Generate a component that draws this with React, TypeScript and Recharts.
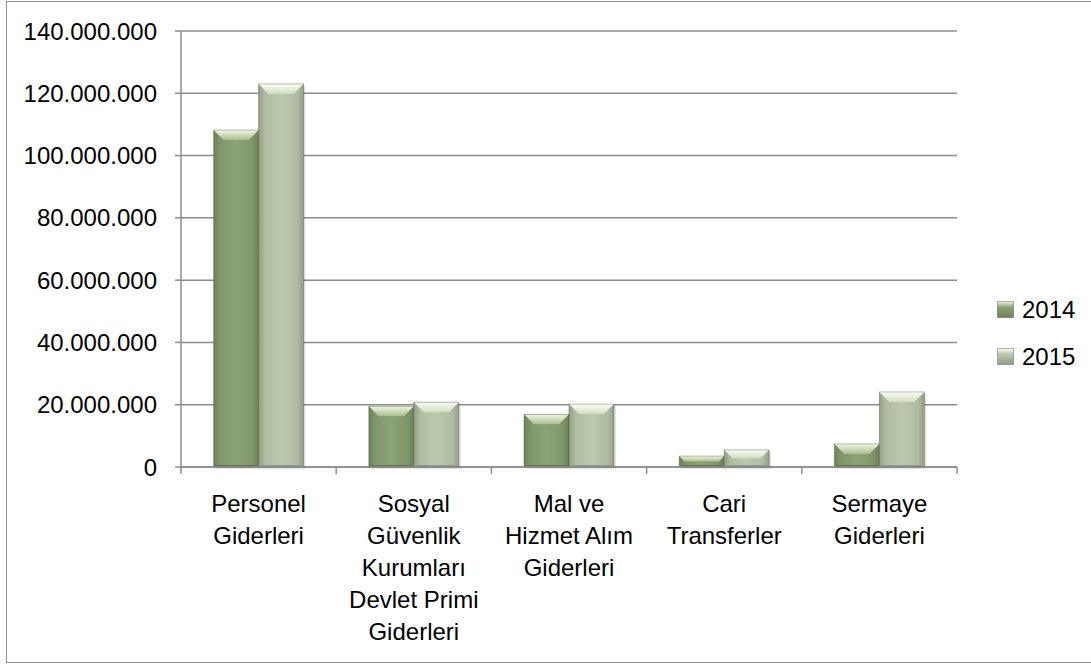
import React from 'react';
import { BarChart, Bar, XAxis, YAxis, CartesianGrid, Legend } from 'recharts';

const categories = [
  'Personel Giderleri',
  'Sosyal Güvenlik Kurumları Devlet Primi Giderleri',
  'Mal ve Hizmet Alım Giderleri',
  'Cari Transferler',
  'Sermaye Giderleri',
];
const categoryLabelLines = [
  ['Personel', 'Giderleri'],
  ['Sosyal', 'Güvenlik', 'Kurumları', 'Devlet Primi', 'Giderleri'],
  ['Mal ve', 'Hizmet Alım', 'Giderleri'],
  ['Cari', 'Transferler'],
  ['Sermaye', 'Giderleri'],
];
const seriesNames = ['2014', '2015'];
const values2014 = [108200000, 19500000, 16900000, 3500000, 7400000];
const values2015 = [123000000, 20800000, 20200000, 5500000, 24100000];
const yTicks = [0, 20000000, 40000000, 60000000, 80000000, 100000000, 120000000, 140000000];

const data = categories.map((c, i) => ({
  name: c,
  [seriesNames[0]]: values2014[i],
  [seriesNames[1]]: values2015[i],
}));

const FONT = "'Liberation Sans', Arial, sans-serif";
const GRID = '#8c8c8c';

const palettes = [
  { key: 'a', edge: '#6b8156', body: '#7f966a', mid: '#8ba375', topLight: '#f0f6e2', topDark: '#a9bd92', bottom: '#62774f' },
  { key: 'b', edge: '#939f86', body: '#b0bca1', mid: '#bdc9ae', topLight: '#fcfdf4', topDark: '#d2dbc3', bottom: '#8f9a82' },
];

const fmt = (v: number) => String(v).replace(/\B(?=(\d{3})+(?!\d))/g, '.');

const makeShape = (pal: any) => (props: any) => {
  const { x, y, width: w, height: h, index } = props;
  if (!h || h <= 0) return null;
  const id = `bar-${pal.key}-${index}`;
  const b = Math.min(10, h / 2, w / 4);
  return (
    <g>
      <defs>
        <linearGradient id={id + 'h'} x1="0" x2="1" y1="0" y2="0">
          <stop offset="0" stopColor={pal.edge} />
          <stop offset="0.14" stopColor={pal.body} />
          <stop offset="0.5" stopColor={pal.mid} />
          <stop offset="0.86" stopColor={pal.body} />
          <stop offset="1" stopColor={pal.edge} />
        </linearGradient>
        <linearGradient id={id + 't'} x1="0" x2="0" y1="0" y2="1">
          <stop offset="0" stopColor={pal.topLight} />
          <stop offset="1" stopColor={pal.topDark} />
        </linearGradient>
      </defs>
      <rect x={x + 2} y={y + 2} width={w} height={h} fill="rgba(0,0,0,0.10)" />
      <rect x={x} y={y} width={w} height={h} fill={`url(#${id}h)`} />
      <polygon
        points={`${x},${y} ${x + w},${y} ${x + w - b},${y + b} ${x + b},${y + b}`}
        fill={`url(#${id}t)`}
      />
      <polygon
        points={`${x},${y + h} ${x + w},${y + h} ${x + w - 2},${y + h - 2} ${x + 2},${y + h - 2}`}
        fill={pal.bottom}
      />
      <rect x={x} y={y} width={w} height={h} fill="none" stroke="rgba(60,70,50,0.35)" strokeWidth={1} />
    </g>
  );
};

const XTick = (props: any) => {
  const { x, y, index, width } = props;
  const step = width / categories.length;
  const lines = categoryLabelLines[index] || [];
  const top = y - 7;
  return (
    <g>
      <line x1={x - step / 2} x2={x - step / 2} y1={top} y2={top + 7} stroke={GRID} strokeWidth={1.5} />
      {index === categories.length - 1 && (
        <line x1={x + step / 2} x2={x + step / 2} y1={top} y2={top + 7} stroke={GRID} strokeWidth={1.5} />
      )}
      <text textAnchor="middle" fontFamily={FONT} fontSize={24} fill="#000">
        {lines.map((l, i) => (
          <tspan key={i} x={x} y={y + 38 + i * 32}>
            {l}
          </tspan>
        ))}
      </text>
    </g>
  );
};

const LegendContent = () => (
  <div style={{ fontFamily: FONT, fontSize: 24, color: '#000' }}>
    {seriesNames.map((n, i) => {
      const p = palettes[i];
      return (
        <div key={n} style={{ display: 'flex', alignItems: 'center', height: 47 }}>
          <svg width={18} height={18} style={{ display: 'block' }}>
            <defs>
              <linearGradient id={`lg${i}`} x1="0" x2="0" y1="0" y2="1">
                <stop offset="0" stopColor={p.topLight} />
                <stop offset="0.35" stopColor={p.mid} />
                <stop offset="1" stopColor={p.edge} />
              </linearGradient>
            </defs>
            <rect x={0.5} y={0.5} width={16} height={16} fill={`url(#lg${i})`} stroke="rgba(60,70,50,0.4)" />
          </svg>
          <span style={{ marginLeft: 7 }}>{n}</span>
        </div>
      );
    })}
  </div>
);

export default function App() {
  return (
    <div style={{ position: 'absolute', left: 0, top: 0, width: 1091, height: 666, overflow: 'hidden', background: '#fff' }}>
      <div
        style={{
          position: 'absolute',
          left: 6,
          top: 1,
          width: 1100,
          height: 662,
          border: '1.5px solid #8c8c8c',
          boxSizing: 'border-box',
        }}
      />
      <BarChart
        width={1091}
        height={666}
        data={data}
        margin={{ top: 31, right: 134, bottom: 0, left: 0 }}
        barCategoryGap="21%"
        barGap={0}
      >
        <CartesianGrid vertical={false} stroke={GRID} strokeWidth={1.5} />
        <XAxis
          dataKey="name"
          height={199}
          interval={0}
          tickLine={false}
          tickSize={7}
          tickMargin={0}
          axisLine={{ stroke: GRID, strokeWidth: 1.5 }}
          tick={<XTick />}
        />
        <YAxis
          width={181}
          domain={[0, 140000000]}
          ticks={yTicks}
          tickFormatter={fmt}
          tickSize={6}
          tickMargin={18}
          axisLine={{ stroke: GRID, strokeWidth: 1.5 }}
          tickLine={{ stroke: GRID, strokeWidth: 1.5 }}
          tick={{ fontFamily: FONT, fontSize: 24, fill: '#000' }}
        />
        <Legend
          layout="vertical"
          align="center"
          verticalAlign="middle"
          content={<LegendContent />}
          wrapperStyle={{ left: 997, top: 286, width: 90 }}
        />
        <Bar dataKey={seriesNames[0]} isAnimationActive={false} shape={makeShape(palettes[0])} />
        <Bar dataKey={seriesNames[1]} isAnimationActive={false} shape={makeShape(palettes[1])} />
      </BarChart>
    </div>
  );
}
